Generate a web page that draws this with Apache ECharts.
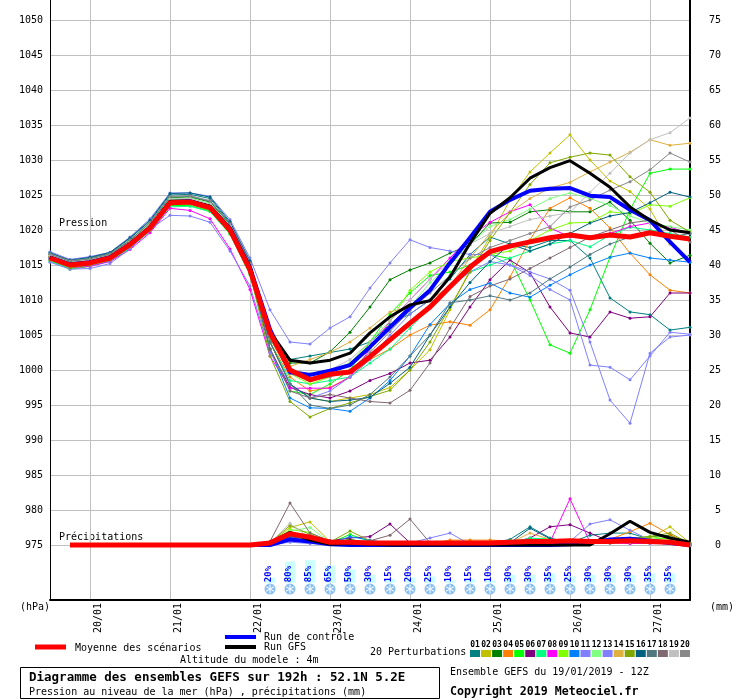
<!DOCTYPE html>
<html>
<head>
<meta charset="utf-8">
<title>Diagramme des ensembles GEFS</title>
<script src="https://cdn.jsdelivr.net/npm/echarts@6/dist/echarts.min.js"></script>
<style>
  html, body { margin: 0; padding: 0; background: #fff; }
  #main { width: 740px; height: 700px; }
</style>
</head>
<body>
<div id="main"></div>
<script type="text/javascript">
// echeances (heures depuis 19/01 12Z), pas de 6h
var hours = [0,6,12,18,24,30,36,42,48,54,60,66,72,78,84,90,96,102,108,114,120,126,132,138,144,150,156,162,168,174,180,186,192];
var dayHours = [12,36,60,84,108,132,156,180];
var dayLabels = ['20/01','21/01','22/01','23/01','24/01','25/01','26/01','27/01'];
var pTicks = [975,980,985,990,995,1000,1005,1010,1015,1020,1025,1030,1035,1040,1045,1050];
var rTicks = [0,5,10,15,20,25,30,35,40,45,50,55,60,65,70,75];

// pression moyenne / controle / GFS (hPa)
var meanP = [1016.0,1015.0,1015.3,1016.0,1017.9,1020.3,1023.9,1024.0,1023.2,1020.0,1014.3,1005.3,1000.0,998.6,999.4,999.7,1001.9,1004.3,1006.7,1009.0,1011.9,1014.7,1016.9,1017.7,1018.3,1018.9,1019.3,1018.9,1019.3,1019.0,1019.6,1019.1,1018.7];
var ctrlP = [1016.1,1015.1,1015.4,1016.1,1018.0,1020.4,1024.0,1024.1,1023.3,1020.2,1014.6,1005.8,999.7,999.3,999.9,1000.7,1003.3,1006.1,1008.9,1011.4,1015.3,1018.9,1022.6,1024.3,1025.6,1025.9,1026.0,1024.9,1024.7,1022.9,1021.4,1018.3,1015.4];
var gfsP  = [1016.1,1015.1,1015.4,1016.1,1018.0,1020.4,1024.1,1024.1,1023.4,1020.2,1014.7,1005.5,1001.4,1001.0,1001.4,1002.4,1005.3,1007.6,1009.3,1009.9,1013.3,1018.1,1022.4,1024.6,1027.4,1028.9,1029.9,1028.1,1026.1,1023.3,1021.4,1020.0,1019.6];

// perturbations 01..20 (hPa)
var p01 = [1016.8,1015.6,1016.0,1016.7,1018.8,1021.3,1025.0,1025.1,1024.5,1021.0,1015.4,1005,1001.5,1002,1002.5,1003,1004,1006.5,1008,1010,1013,1016.5,1019,1018,1017.5,1018.5,1018.5,1016,1010.3,1008.3,1007.9,1005.7,1006.1];
var p02 = [1016.2,1015.2,1015.6,1016.3,1018.3,1020.7,1024.3,1024.4,1023.6,1020.4,1014.6,1004,998,996,995.5,996,996.5,997.5,1000,1002.9,1008.6,1014.3,1019,1024.3,1028.3,1031,1033.6,1030,1027,1025.5,1023,1018,1015.5];
var p03 = [1016.5,1015.5,1015.8,1016.6,1018.5,1021.0,1024.6,1024.7,1024.0,1020.8,1015.0,1005.5,1001,1001,1002.6,1005.4,1009,1012.9,1014.3,1015.3,1016.7,1017.9,1021,1021.1,1022.6,1022.9,1022.6,1022.6,1024,1021.4,1018.1,1015.3,1016.4];
var p04 = [1016.0,1015.0,1015.2,1015.9,1017.8,1020.4,1023.8,1023.9,1023.0,1019.8,1014.0,1004,999,997,997.5,999,1001.5,1003,1005,1006.4,1006.9,1006.4,1008.6,1013.3,1018.6,1023.1,1024.6,1023.1,1020.3,1016.7,1013.6,1011.4,1011];
var p05 = [1015.6,1014.4,1014.8,1015.6,1017.5,1020.0,1023.5,1023.5,1022.7,1019.4,1013.6,1003,997,996.5,998,1000,1004,1008,1011,1013.5,1014,1015,1016.5,1015.9,1010,1003.6,1002.4,1008.6,1016.1,1022.9,1028.1,1028.7,1028.7];
var p06 = [1016.1,1015.1,1015.4,1016.1,1018.0,1020.2,1023.7,1023.9,1023.1,1019.9,1014.2,1003,997.5,996.5,996,997,998.5,999.5,1001,1001.4,1004.7,1009,1012.9,1015.7,1013.9,1009,1005.3,1004.7,1008.3,1007.4,1007.6,1011,1011];
var p07 = [1015.5,1014.6,1014.9,1015.5,1017.4,1019.8,1023.3,1023.4,1022.6,1019.5,1013.8,1004,998.5,998,998.5,999,1001,1003,1006,1009,1012,1014,1015,1016,1017,1018,1018.5,1017.6,1019.3,1020.4,1020,1019.5,1019];
var p08 = [1015.8,1014.6,1014.8,1015.5,1017.2,1019.6,1023.1,1022.8,1021.6,1017.3,1011.5,1002,997.4,997.4,997.4,999,1003,1007,1010,1013,1016,1019,1021.1,1022.6,1023.6,1020.3,1019,1019,1019.5,1020.5,1021,1020.4,1019.5];
var p09 = [1016.2,1015.1,1015.5,1016.2,1018.1,1020.6,1024.1,1024.2,1023.4,1020.3,1014.6,1004.5,999.5,998,999,1001,1004,1007,1011.4,1014,1015.5,1016,1016.5,1017,1018.5,1020,1021,1021.1,1022.6,1022.3,1023.6,1023.4,1024.6];
var p10 = [1015.9,1014.9,1015.3,1016.0,1017.9,1020.3,1024.0,1024.1,1023.3,1020.1,1014.4,1003,996,994.6,994.5,994.1,996,998.5,1002,1006.5,1009.5,1011.5,1012.4,1011,1010.4,1012.1,1013.6,1015,1016.1,1016.7,1016,1015.7,1015.4];
var p11 = [1015.4,1014.4,1014.5,1015.2,1017.3,1020.1,1022.1,1022.0,1021.1,1017.0,1012.0,1002.5,998,996,997,999,1001.5,1005,1008,1010,1012,1014,1015.5,1015,1014,1013,1011.4,1004,995.7,992.4,1002.4,1004.7,1005];
var p12 = [1016.4,1015.4,1015.8,1016.5,1018.4,1020.9,1024.5,1024.6,1023.8,1020.6,1014.9,1004.5,999.5,999.5,1000,1001,1003,1006,1009,1012.5,1015,1018,1020.5,1021.5,1023,1024.5,1025.3,1024.5,1023.5,1022,1021,1020.5,1020];
var p13 = [1016.9,1015.8,1016.2,1016.8,1019.0,1021.6,1025.3,1025.3,1024.8,1021.5,1016.0,1008.6,1004,1003.7,1006,1007.6,1011.7,1015.3,1018.6,1017.5,1017,1016.5,1016.5,1015,1013.5,1011.5,1010,1000.7,1000.4,998.6,1002,1005.4,1005.1];
var p14 = [1016.3,1015.3,1015.7,1016.3,1018.2,1020.6,1024.2,1024.3,1023.5,1020.3,1014.7,1005,1000.5,1001.5,1002.5,1004,1006,1008.3,1009,1010,1012,1016,1019.5,1022.5,1024.5,1026,1026.8,1028.3,1029.7,1031.1,1032.9,1032.1,1032.4];
var p15 = [1015.7,1014.6,1015.0,1015.7,1017.6,1020.0,1023.6,1023.7,1022.8,1019.6,1013.8,1002,995.5,993.3,994.5,995.3,996.2,997.1,1000,1004,1009,1014,1018.5,1022.5,1026.5,1029.6,1030.4,1031,1030.7,1027.6,1025.4,1021.4,1019.7];
var p16 = [1016.7,1015.7,1016.1,1016.8,1018.9,1021.4,1025.2,1025.3,1024.7,1021.2,1015.6,1004,998,996,995.5,995.7,996.1,998.1,1000.4,1005,1009,1012.5,1015.5,1018,1017,1018,1019.5,1021,1022,1022.5,1023.9,1025.4,1024.7];
var p17 = [1016.5,1015.5,1015.9,1016.5,1018.5,1021.1,1024.7,1024.8,1024.1,1020.9,1015.2,1004,998,995,994.5,995,996.5,999,1002,1005,1009.6,1010,1010.6,1010,1011,1013,1014.7,1016.5,1018,1019,1019.5,1019,1019.5];
var p18 = [1016.2,1015.2,1015.5,1016.2,1018.0,1020.5,1024.1,1024.3,1023.4,1020.2,1014.5,1003,997,996,996.5,996,995.5,995.3,997.1,1001,1006,1010.5,1012,1013,1014.5,1016,1017.5,1019,1020,1021,1021.4,1020,1018.3];
var p19 = [1016.4,1015.4,1015.7,1016.4,1018.3,1020.8,1024.4,1024.5,1023.7,1020.5,1014.8,1005,1000,999.5,1000,1001.5,1004,1007,1010,1013,1015.5,1018,1019.5,1020.5,1021.5,1022,1022.5,1025.4,1028.1,1031,1032.9,1033.9,1036];
var p20 = [1016.6,1015.6,1015.9,1016.6,1018.6,1021.1,1024.8,1024.9,1024.2,1020.9,1015.3,1004.5,999.5,998.5,999,1000,1002.5,1005.5,1008.5,1011,1013.5,1016,1017.5,1018.5,1019.5,1020.5,1023.3,1024.3,1025.7,1026.9,1028.6,1031,1029.7];

// precipitations (mm / 6h)
var meanR = [null,0,0,0,0,0,0,0,0,0,0,0.3,1.6,1.1,0.4,0.4,0.3,0.3,0.3,0.3,0.3,0.3,0.3,0.4,0.5,0.5,0.6,0.5,0.5,0.6,0.5,0.4,0];
var ctrlR = [null,null,null,null,null,null,null,null,null,null,0,0,0.8,0.5,0.1,0,0,0,0,0,0,0,0,0,0,0,0.1,0.3,0.8,0.9,0.6,0.3,0];
var gfsR  = [null,null,null,null,null,null,null,null,null,null,0,0.3,1.8,0.7,0.1,0.2,0.1,0,0,0,0,0,0,0,0,0,0,0,1.6,3.4,1.8,1.0,0.4];
var r01 = [null,null,null,null,null,null,null,null,null,null,0,0.2,1.2,0.8,0.3,0.5,0.2,0.1,0.1,0,0,0,0.2,0.8,2.6,1.0,0.3,1.4,1.7,1.7,0.8,0.3,0];
var r02 = [null,null,null,null,null,null,null,null,null,null,0,0.3,2.5,3.3,0.5,0.3,0.2,0.1,0,0,0,0,0,0.2,0.6,0.3,0.2,0.3,0.5,0.6,1.0,2.6,0.3];
var r03 = [null,null,null,null,null,null,null,null,null,null,0,0.2,1.5,1.0,0.3,0.8,0.3,0,0,0,0,0,0,0.1,0.5,0.6,0.4,0.3,0.5,0.8,1.2,1.4,0.2];
var r04 = [null,null,null,null,null,null,null,null,null,null,0,0.1,1.0,0.6,0.2,0.3,0.1,0,0.1,0.2,0.7,0.7,0.7,0.6,0.2,0.2,0.3,0.5,0.8,1.9,3.1,1.5,0];
var r05 = [null,null,null,null,null,null,null,null,null,null,0,0.2,1.8,0.8,0.3,1.5,0.5,0.2,0,0,0,0,0.1,0.6,0.8,0.9,0.4,0.3,0.4,0.6,0.8,1.0,0.2];
var r06 = [null,null,null,null,null,null,null,null,null,null,0,0.2,1.2,0.9,0.6,1.0,1.2,3.0,0.3,0.2,0.1,0,0,0.3,1.0,2.6,2.9,1.7,0.5,0.3,0.2,0.2,0];
var r07 = [null,null,null,null,null,null,null,null,null,null,0,0.1,1.4,0.7,0.2,0.4,0.2,0,0,0,0,0,0,0.2,1.0,0.8,0.3,0.2,0.3,0.5,0.6,0.4,0.1];
var r08 = [null,null,null,null,null,null,null,null,null,null,0,0.1,1.0,0.5,0.2,0.3,0.1,0,0,0,0,0,0,0.2,0.4,0.4,6.6,0.4,0.3,0.2,0.3,0.2,0];
var r09 = [null,null,null,null,null,null,null,null,null,null,0,0.2,2.2,1.8,0.4,0.3,0.2,0,0,0,0,0,0,0.1,0.3,0.5,0.4,0.5,0.6,0.8,1.2,0.8,0.1];
var r10 = [null,null,null,null,null,null,null,null,null,null,0,0.1,0.8,0.4,0.2,1.2,0.7,0.2,0,0,0,0,0,0.1,0.3,0.2,0.2,0.3,0.6,0.8,0.5,0.3,0];
var r11 = [null,null,null,null,null,null,null,null,null,null,0,0,0.4,0.2,0.1,0.1,0.1,0.3,0.3,1.0,1.7,0.1,0,0.1,0.2,0.2,0.3,0.4,0.5,0.4,0.3,0.2,0];
var r12 = [null,null,null,null,null,null,null,null,null,null,0,0.2,2.0,2.5,0.4,0.3,0.2,0.1,0,0,0,0,0,0.1,0.3,0.4,0.3,0.2,0.3,0.4,0.6,0.4,0.1];
var r13 = [null,null,null,null,null,null,null,null,null,null,0,0.1,0.6,0.3,0.1,0.2,0.1,0,0,0,0,0,0,0.1,0.2,0.3,0.5,3.0,3.6,2.1,0.7,0.3,0];
var r14 = [null,null,null,null,null,null,null,null,null,null,0,0.2,1.6,1.2,0.3,0.3,0.2,0,0,0,0,0,0,0.3,1.7,0.8,0.3,0.3,0.5,0.8,0.9,0.6,0.1];
var r15 = [null,null,null,null,null,null,null,null,null,null,0,0.3,2.8,1.5,0.4,2.0,0.6,0.2,0,0,0,0,0,0.2,0.7,0.6,0.3,0.4,0.6,1.0,1.2,1.7,0.2];
var r16 = [null,null,null,null,null,null,null,null,null,null,0,0.1,1.0,0.6,0.2,0.4,0.2,0,0,0,0,0,0,0.3,2.4,0.9,0.3,0.2,0.4,0.6,0.5,0.3,0];
var r17 = [null,null,null,null,null,null,null,null,null,null,0,0.2,0.9,0.6,0.3,0.4,0.3,0.2,0.1,0,0,0,0,0.1,0.3,0.3,0.2,0.4,0.6,0.9,0.7,0.4,0.1];
var r18 = [null,null,null,null,null,null,null,null,null,null,0,0.5,6.0,1.7,0.6,0.5,0.6,1.4,3.7,0.3,0.1,0,0,0.1,0.2,0.2,0.2,0.3,0.3,0.4,0.4,0.3,0];
var r19 = [null,null,null,null,null,null,null,null,null,null,0,0.3,3.1,1.0,0.3,0.3,0.2,0.1,0,0,0,0,0,0.1,0.2,0.2,0.3,0.2,0.3,0.4,0.3,0.2,0];
var r20 = [null,null,null,null,null,null,null,null,null,null,0,0.2,1.5,1.2,0.4,0.4,0.3,0.1,0,0,0,0,0,0.1,0.2,0.2,0.2,0.2,0.3,0.5,0.4,0.3,0];

// probabilite de neige (%)
var snowHours = [66,72,78,84,90,96,102,108,114,120,126,132,138,144,150,156,162,168,174,180,186];
var snowPct = [20,80,85,65,50,30,15,20,25,10,15,10,30,30,35,25,30,30,30,35,35];

var pertNames = ['01','02','03','04','05','06','07','08','09','10','11','12','13','14','15','16','17','18','19','20'];
var pertColors = ['#008080','#c0c000','#008000','#ff8000','#00ff00','#800080','#00ff80','#ff00ff','#80ff00','#0080ff','#8080ff','#80ff80','#8080ff','#e0b040','#80a800','#006080','#507880','#806870','#c0c0c0','#888888'];
var pertP = [p01,p02,p03,p04,p05,p06,p07,p08,p09,p10,p11,p12,p13,p14,p15,p16,p17,p18,p19,p20];
var pertR = [r01,r02,r03,r04,r05,r06,r07,r08,r09,r10,r11,r12,r13,r14,r15,r16,r17,r18,r19,r20];

var MONO = '"DejaVu Sans Mono", "Liberation Mono", monospace';

function pairs(arr) {
    return hours.map(function (h, i) { return [h, arr[i]]; });
}

var series = [];
for (var k = 0; k < pertP.length; k++) {
    series.push({
        name: 'P' + pertNames[k], type: 'line', yAxisIndex: 0, data: pairs(pertP[k]),
        symbol: 'circle', symbolSize: 3, color: pertColors[k],
        lineStyle: { width: 1, color: pertColors[k] }, z: 3, animation: false, silent: true
    });
    series.push({
        name: 'R' + pertNames[k], type: 'line', yAxisIndex: 1, data: pairs(pertR[k]),
        symbol: 'circle', symbolSize: 3, color: pertColors[k], connectNulls: false,
        lineStyle: { width: 1, color: pertColors[k] }, z: 3, animation: false, silent: true
    });
}
function mainLine(name, arr, axis, color, w, z) {
    return {
        name: name, type: 'line', yAxisIndex: axis, data: pairs(arr), showSymbol: false,
        color: color, lineStyle: { width: w, color: color }, z: z, animation: false, silent: true
    };
}
series.push(mainLine('Run de contrôle', ctrlP, 0, '#0000ff', 4, 5));
series.push(mainLine('Run de contrôle R', ctrlR, 1, '#0000ff', 4, 5));
series.push(mainLine('Run GFS', gfsP, 0, '#000000', 3, 6));
series.push(mainLine('Run GFS R', gfsR, 1, '#000000', 3, 6));
series.push(mainLine('Moyenne des scénarios', meanP, 0, '#ff0000', 5, 7));
series.push(mainLine('Moyenne R', meanR, 1, '#ff0000', 5, 7));

// flocons + probabilite de neige
series.push({
    type: 'custom', yAxisIndex: 0, z: 8, animation: false, silent: true,
    data: snowHours.map(function (h, i) { return [h, snowPct[i]]; }),
    renderItem: function (params, api) {
        var pct = api.value(1);
        var p = api.coord([api.value(0), 969.57]);
        var cx = p[0], by = p[1];
        var bh = pct * 0.27;
        var cy = by + 6;
        var kids = [
            { type: 'rect', shape: { x: cx - 5, y: by - bh, width: 10, height: bh }, style: { fill: '#ccffff' } },
            { type: 'text', x: cx - 1, y: by - 9, rotation: Math.PI / 2,
              style: { text: pct + '%', fill: '#0000ff', font: 'bold 9px ' + MONO, align: 'center', verticalAlign: 'middle' } },
            { type: 'circle', shape: { cx: cx, cy: cy, r: 5.5 }, style: { fill: '#8cc0f0' } }
        ];
        for (var a = 0; a < 3; a++) {
            var ang = a * Math.PI / 3;
            kids.push({ type: 'line', shape: { x1: cx - 4.5 * Math.sin(ang), y1: cy - 4.5 * Math.cos(ang), x2: cx + 4.5 * Math.sin(ang), y2: cy + 4.5 * Math.cos(ang) },
                        style: { stroke: '#ffffff', lineWidth: 1 } });
        }
        return { type: 'group', children: kids };
    }
});

// legende perturbations
var legendBoxes = [];
for (var j = 0; j < pertNames.length; j++) {
    var bx = 470 + j * 11.05;
    legendBoxes.push({ type: 'rect', shape: { x: bx, y: 650, width: 10, height: 7 }, style: { fill: pertColors[j] } });
    legendBoxes.push({ type: 'text', x: bx + 5, y: 645, style: { text: pertNames[j], font: 'bold 8px ' + MONO, fill: '#000', align: 'center', verticalAlign: 'middle' } });
}

function txt(x, y, s, font) {
    return { type: 'text', x: x, y: y, style: { text: s, font: font || ('10px ' + MONO), fill: '#000', verticalAlign: 'middle' } };
}

var option = {
    backgroundColor: '#ffffff',
    animation: false,
    grid: { left: 50, right: 50, top: 0, bottom: 100 },
    xAxis: {
        type: 'value', min: 0, max: 192,
        axisLine: { show: true, onZero: false, lineStyle: { color: '#000', width: 2 } },
        axisTick: { show: false, customValues: dayHours },
        axisLabel: {
            customValues: dayHours, rotate: 90, margin: 3, color: '#000', fontFamily: MONO, fontSize: 10,
            lineHeight: 16,
            formatter: function (v) { return '\n' + dayLabels[dayHours.indexOf(v)]; }
        },
        splitLine: { show: true, lineStyle: { color: '#c0c0c0', width: 1 } }
    },
    yAxis: [{
        type: 'value', min: 967.142857, max: 1052.857143, position: 'left',
        axisLine: { show: true, lineStyle: { color: '#000', width: 1 } },
        axisTick: { show: false, customValues: pTicks },
        axisLabel: { customValues: pTicks, margin: 7, color: '#000', fontFamily: MONO, fontSize: 10,
                     formatter: function (v) { return String(v); } },
        splitLine: { show: true, lineStyle: { color: '#c0c0c0', width: 1 } }
    }, {
        type: 'value', min: -7.857143, max: 77.857143, position: 'right',
        axisLine: { show: true, lineStyle: { color: '#000', width: 2 } },
        axisTick: { show: false, customValues: rTicks },
        axisLabel: { customValues: rTicks, margin: 31, align: 'right', color: '#000', fontFamily: MONO, fontSize: 10,
                     formatter: function (v) { return String(v); } },
        splitLine: { show: false }
    }],
    graphic: [
        txt(59, 223, 'Pression'),
        txt(59, 537, 'Précipitations'),
        txt(20, 607, '(hPa)'),
        txt(710, 607, '(mm)'),
        { type: 'line', shape: { x1: 35, y1: 647, x2: 66, y2: 647 }, style: { stroke: '#ff0000', lineWidth: 5 } },
        txt(75, 648, 'Moyenne des scénarios'),
        { type: 'line', shape: { x1: 225, y1: 637, x2: 256, y2: 637 }, style: { stroke: '#0000ff', lineWidth: 4 } },
        txt(264, 637, 'Run de contrôle'),
        { type: 'line', shape: { x1: 225, y1: 647, x2: 256, y2: 647 }, style: { stroke: '#000000', lineWidth: 4 } },
        txt(264, 647, 'Run GFS'),
        txt(180, 660, 'Altitude du modele : 4m'),
        txt(370, 652, '20 Perturbations'),
        { type: 'group', children: legendBoxes },
        { type: 'rect', shape: { x: 20.5, y: 667.5, width: 419, height: 31 }, style: { fill: 'none', stroke: '#000', lineWidth: 1 } },
        txt(29, 678, 'Diagramme des ensembles GEFS sur 192h : 52.1N 5.2E', 'bold 12.5px ' + MONO),
        txt(29, 692, 'Pression au niveau de la mer (hPa) , précipitations (mm)'),
        txt(450, 672, 'Ensemble GEFS du 19/01/2019 - 12Z'),
        txt(450, 692, 'Copyright 2019 Meteociel.fr', 'bold 11.6px ' + MONO)
    ],
    series: series
};

var myChart = echarts.init(document.getElementById('main'));
myChart.setOption(option);
</script>
</body>
</html>
